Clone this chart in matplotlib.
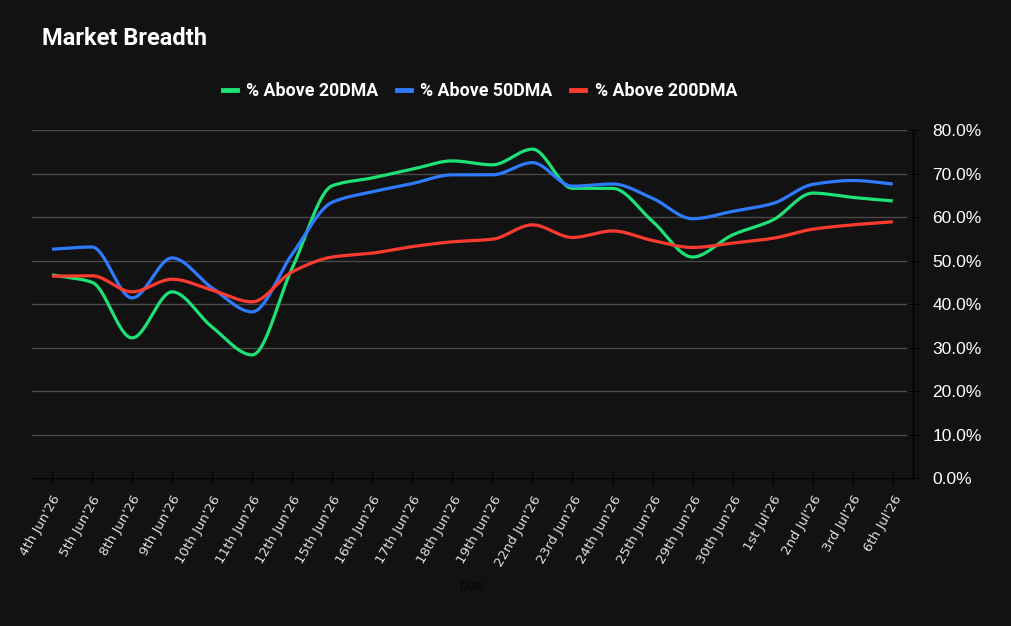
import matplotlib.pyplot as plt
from matplotlib.ticker import FuncFormatter, MultipleLocator
from matplotlib.lines import Line2D
import numpy as np

dates = ["4th Jun'26", "5th Jun'26", "8th Jun'26", "9th Jun'26", "10th Jun'26",
         "11th Jun'26", "12th Jun'26", "15th Jun'26", "16th Jun'26", "17th Jun'26",
         "18th Jun'26", "19th Jun'26", "22nd Jun'26", "23rd Jun'26", "24th Jun'26",
         "25th Jun'26", "29th Jun'26", "30th Jun'26", "1st Jul'26", "2nd Jul'26",
         "3rd Jul'26", "6th Jul'26"]

above_20 = [46.7, 45.0, 32.2, 42.8, 34.7, 28.3, 48.3, 67.2, 69.0, 71.0, 72.9,
            72.0, 75.6, 66.6, 66.6, 59.0, 50.8, 55.9, 59.3, 65.5, 64.5, 63.7]
above_50 = [52.6, 53.1, 41.4, 50.6, 43.7, 38.2, 51.5, 63.4, 65.8, 67.7, 69.7,
            69.7, 72.5, 67.1, 67.6, 64.3, 59.6, 61.3, 63.1, 67.5, 68.4, 67.6]
above_200 = [46.4, 46.5, 42.8, 45.7, 43.2, 40.5, 47.4, 50.8, 51.7, 53.2, 54.3,
             54.9, 58.2, 55.3, 56.8, 54.6, 53.0, 54.0, 55.1, 57.2, 58.2, 58.9]

series = [("% Above 20DMA", above_20, "#1de276"),
          ("% Above 50DMA", above_50, "#2f7bff"),
          ("% Above 200DMA", above_200, "#ff3b30")]

bg = "#121212"


def monotone(x, y, n=30):
    # Fritsch-Carlson monotone cubic for smooth lines
    x = np.asarray(x, float)
    y = np.asarray(y, float)
    h = np.diff(x)
    d = np.diff(y) / h
    m = np.zeros_like(y)
    m[0], m[-1] = d[0], d[-1]
    for i in range(1, len(y) - 1):
        if d[i - 1] * d[i] <= 0:
            m[i] = 0
        else:
            w1 = 2 * h[i] + h[i - 1]
            w2 = h[i] + 2 * h[i - 1]
            m[i] = (w1 + w2) / (w1 / d[i - 1] + w2 / d[i])
    xs, ys = [], []
    for i in range(len(x) - 1):
        t = np.linspace(0, 1, n, endpoint=False)
        h00 = 2 * t**3 - 3 * t**2 + 1
        h10 = t**3 - 2 * t**2 + t
        h01 = -2 * t**3 + 3 * t**2
        h11 = t**3 - t**2
        xs.append(x[i] + t * h[i])
        ys.append(h00 * y[i] + h10 * h[i] * m[i] + h01 * y[i + 1] + h11 * h[i] * m[i + 1])
    xs.append([x[-1]])
    ys.append([y[-1]])
    return np.concatenate(xs), np.concatenate(ys)


fig = plt.figure(figsize=(10.12, 6.26), dpi=100, facecolor=bg)
ax = fig.add_axes([0.0316, 0.2364, 0.8704, 0.5559], facecolor=bg)

x = np.arange(len(dates))
for label, vals, color in series:
    sx, sy = monotone(x, vals)
    ax.plot(sx, sy, color=color, lw=2.3, solid_capstyle='butt', zorder=3)

ax.set_xlim(-0.5, len(dates) - 0.5)
ax.set_ylim(0, 80)
ax.yaxis.tick_right()
ax.yaxis.set_major_locator(MultipleLocator(10))
ax.yaxis.set_major_formatter(FuncFormatter(lambda v, p: f"{v:.1f}%"))
ax.grid(axis='y', color='#4a4a4a', lw=1)
ax.set_axisbelow(True)

for s in ['top', 'left']:
    ax.spines[s].set_visible(False)
for s in ['bottom', 'right']:
    ax.spines[s].set_color('black')
    ax.spines[s].set_linewidth(1)

ax.set_xticks(x)
ax.set_xticklabels(dates, rotation=60, ha='right', rotation_mode='anchor',
                   fontsize=9.5, color='#e0e0e0', family='DejaVu Sans')
ax.tick_params(axis='x', direction='inout', length=8, color='black', pad=7)
ax.tick_params(axis='y', direction='inout', length=8, color='black', pad=10,
               labelsize=12.5, labelcolor='white')
for t in ax.get_yticklabels():
    t.set_family('Liberation Sans')

ax.set_xlabel("Date", fontsize=8.5, color='#050505', labelpad=9,
              family='Liberation Sans')

fig.text(0.0415, 0.938, "Market Breadth", fontsize=17, fontweight='bold',
         color='white', family='Roboto', va='center')

handles = [Line2D([0], [0], color=c, lw=3.5) for _, _, c in series]
leg = fig.legend(handles, [s[0] for s in series], loc='center',
                 bbox_to_anchor=(0.4745, 0.855), ncol=3, frameon=False,
                 handlelength=0.75, handletextpad=0.55, columnspacing=1.05,
                 prop={'family': 'Roboto', 'weight': 'bold', 'size': 12.8})
for t in leg.get_texts():
    t.set_color('white')

fig.savefig("out.png", dpi=100, facecolor=bg)
